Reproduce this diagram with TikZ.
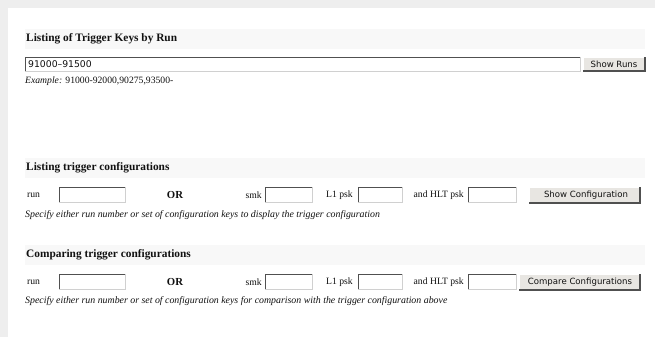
\documentclass[tikz,border=0pt]{standalone}
\usepackage{fontspec}
\setmainfont{Liberation Serif}
\newfontfamily\uifont{DejaVu Sans}
\definecolor{outerbg}{HTML}{EEEEEE}
\definecolor{bandbg}{HTML}{F8F8F8}
\definecolor{btnbg}{HTML}{E8E6E2}
\definecolor{dark}{HTML}{505050}
\definecolor{light}{HTML}{D0D0D0}
\definecolor{txt}{HTML}{111111}
\tikzset{
  band/.style={fill=bandbg, draw=none, inner sep=0pt},
  head/.style={anchor=west, inner sep=0pt, font=\fontsize{11.4}{13}\selectfont\bfseries, text=txt},
  lbl/.style={inner sep=0pt, font=\fontsize{9.7}{11}\selectfont, text=txt},
  note/.style={anchor=west, inner sep=0pt, font=\fontsize{9.9}{11}\selectfont\itshape, text=txt},
  field/.style={draw=light, fill=white, line width=0.8pt},
  fieldedge/.style={draw=dark, line width=1pt},
  btn/.style={draw=white, fill=btnbg, line width=0.8pt},
  btnedge/.style={draw=dark, line width=1.1pt},
  btntext/.style={inner sep=0pt, font=\uifont\fontsize{8.6}{10}\selectfont, text=txt},
}
\usetikzlibrary{calc}
\begin{document}
\begin{tikzpicture}[x=1bp,y=-1bp]
\useasboundingbox (0,0) rectangle (655,337);
\fill[outerbg] (0,0) rectangle (655,337);
\fill[white] (8,8) rectangle (655,337);

% ---------- Section 1
\fill[band] (25,29) rectangle (645,49);
\node[head] (h1) at (26,39) {Listing of Trigger Keys by Run};
\coordinate (f1a) at (25,57); \coordinate (f1b) at (580,71);
\path[field] (f1a) rectangle (f1b);
\draw[fieldedge] (f1a |- f1b) -- (f1a) -- (f1b |- f1a);
\node[anchor=west, inner sep=0pt, font=\uifont\fontsize{9.3}{11}\selectfont, text=txt] (runs) at (28,64) {91000–91500};
\coordinate (b1a) at (583,57); \coordinate (b1b) at (645,71);
\path[btn] (b1a) rectangle (b1b);
\draw[btnedge] (b1a -| b1b) -- (b1b) -- (b1b -| b1a);
\node[btntext] (showruns) at (614,64) {Show Runs};
\node[note, font=\fontsize{9.7}{11}\selectfont\itshape] (ex) at (25,81) {Example: \upshape 91000-92000,90275,93500-};

% ---------- Section 2
\fill[band] (25,158) rectangle (645,178);
\node[head] (h2) at (26,168) {Listing trigger configurations};
\node[lbl, anchor=west] (run2) at (27,195) {run};
\coordinate (r2a) at (59,187); \coordinate (r2b) at (125,202);
\path[field] (r2a) rectangle (r2b); \draw[fieldedge] (r2a |- r2b) -- (r2a) -- (r2b |- r2a);
\node[lbl, font=\fontsize{10.8}{12}\selectfont\bfseries] (or2) at (175,195) {OR};
\node[lbl, anchor=east] (smk2) at (262,195) {smk};
\coordinate (s2a) at (265,187); \coordinate (s2b) at (312,202);
\path[field] (s2a) rectangle (s2b); \draw[fieldedge] (s2a |- s2b) -- (s2a) -- (s2b |- s2a);
\node[lbl, anchor=east] (l12) at (353,195) {L1 psk};
\coordinate (l2a) at (358,187); \coordinate (l2b) at (402,202);
\path[field] (l2a) rectangle (l2b); \draw[fieldedge] (l2a |- l2b) -- (l2a) -- (l2b |- l2a);
\node[lbl, anchor=east] (hlt2) at (464,195) {and HLT psk};
\coordinate (t2a) at (468,187); \coordinate (t2b) at (516,202);
\path[field] (t2a) rectangle (t2b); \draw[fieldedge] (t2a |- t2b) -- (t2a) -- (t2b |- t2a);
\coordinate (b2a) at (529,187); \coordinate (b2b) at (640,203);
\path[btn] (b2a) rectangle (b2b);
\draw[btnedge] (b2a -| b2b) -- (b2b) -- (b2b -| b2a);
\node[btntext] (showcfg) at (586,195) {Show Configuration};
\node[note] (sp2) at (25,215) {Specify either run number or set of configuration keys to display the trigger configuration};

% ---------- Section 3
\fill[band] (25,245) rectangle (645,265);
\node[head] (h3) at (26,255) {Comparing trigger configurations};
\node[lbl, anchor=west] (run3) at (27,282) {run};
\coordinate (r3a) at (59,274); \coordinate (r3b) at (125,289);
\path[field] (r3a) rectangle (r3b); \draw[fieldedge] (r3a |- r3b) -- (r3a) -- (r3b |- r3a);
\node[lbl, font=\fontsize{10.8}{12}\selectfont\bfseries] (or3) at (175,282) {OR};
\node[lbl, anchor=east] (smk3) at (262,282) {smk};
\coordinate (s3a) at (265,274); \coordinate (s3b) at (312,289);
\path[field] (s3a) rectangle (s3b); \draw[fieldedge] (s3a |- s3b) -- (s3a) -- (s3b |- s3a);
\node[lbl, anchor=east] (l13) at (353,282) {L1 psk};
\coordinate (l3a) at (358,274); \coordinate (l3b) at (402,289);
\path[field] (l3a) rectangle (l3b); \draw[fieldedge] (l3a |- l3b) -- (l3a) -- (l3b |- l3a);
\node[lbl, anchor=east] (hlt3) at (464,282) {and HLT psk};
\coordinate (t3a) at (468,274); \coordinate (t3b) at (516,289);
\path[field] (t3a) rectangle (t3b); \draw[fieldedge] (t3a |- t3b) -- (t3a) -- (t3b |- t3a);
\coordinate (b3a) at (519,274); \coordinate (b3b) at (640,290);
\path[btn] (b3a) rectangle (b3b);
\draw[btnedge] (b3a -| b3b) -- (b3b) -- (b3b -| b3a);
\node[btntext] (cmpcfg) at (580,282) {Compare Configurations};
\node[note] (sp3) at (25,301) {Specify either run number or set of configuration keys for comparison with the trigger configuration above};
\end{tikzpicture}
\end{document}
